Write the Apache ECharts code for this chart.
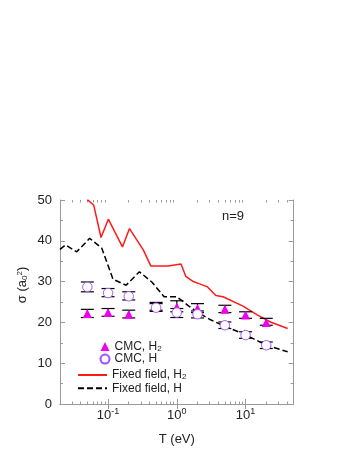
<!DOCTYPE html>
<html><head><meta charset="utf-8">
<script src="https://cdn.jsdelivr.net/npm/echarts@6/dist/echarts.min.js"></script>
<style>html,body{margin:0;padding:0;background:#fff}#c{width:354px;height:458px}</style>
</head><body><div id="c"></div>
<script>
// ---- data ----
const xMajorTicks = [0.1, 1, 10];
const xMinorTicks = [0.03,0.04,0.05,0.06,0.07,0.08,0.09,0.2,0.3,0.4,0.5,0.6,0.7,0.8,0.9,2,3,4,5,6,7,8,9,20,30,40];
const fixedH2T = [0.05,0.062,0.079,0.101,0.162,0.205,0.327,0.42,0.75,1.15,1.35,1.7,2.1,2.8,3.7,4.7,9.2,15,23,41];
const fixedH2  = [50.1,48.7,40.8,45.3,38.5,43.0,37.7,33.8,33.8,34.3,31.3,30.1,29.5,28.7,26.6,26.3,24.0,21.8,20.1,18.5];
const fixedHT  = [0.02,0.024,0.035,0.054,0.081,0.118,0.183,0.286,0.433,0.654,1.0,1.5,1.95,3.05,4.6,10.2,20,41];
const fixedH   = [37.9,39.0,37.3,40.6,38.2,30.6,29.1,32.4,29.9,26.3,26.3,24.0,22.6,20.7,19.3,16.9,14.4,12.8];
const cmcT     = [0.05,0.1,0.2,0.5,1,2,5,10,20];
const cmcH2    = [22.2,22.4,22.0,23.9,23.8,23.4,23.2,21.8,20.0];
const cmcH2Lo  = [21.2,21.5,21.1,23.0,22.6,22.4,22.4,21.0,19.3];
const cmcH2Hi  = [23.2,23.4,23.0,24.9,25.3,24.6,24.2,22.6,21.0];
const cmcH     = [28.7,27.2,26.4,23.6,22.4,22.0,19.3,16.9,14.4];
const cmcHLo   = [27.5,26.3,25.5,22.7,21.2,21.1,18.5,16.1,13.6];
const cmcHHi   = [29.9,28.3,27.5,24.6,23.4,22.8,20.1,17.7,15.2];
const yMin = 0, yMax = 50, yStep = 10;

const zip = (a, b) => a.map((v, i) => [v, b[i]]);
const zip3 = (a, b, c) => a.map((v, i) => [v, b[i], c[i]]);

const FONT = 'Liberation Sans, Arial, sans-serif';
const FRAME = '#9a9a9a';
const TXT = '#222';

function errRender(params, api) {
  const x = api.value(0), lo = api.value(1), hi = api.value(2);
  const a = api.coord([x, lo]), b = api.coord([x, hi]);
  const hw = 6.5, st = {stroke: '#000', lineWidth: 1.2};
  return {type: 'group', children: [
    {type: 'line', shape: {x1: a[0], y1: a[1], x2: b[0], y2: b[1]}, style: st},
    {type: 'line', shape: {x1: a[0]-hw, y1: a[1], x2: a[0]+hw, y2: a[1]}, style: st},
    {type: 'line', shape: {x1: b[0]-hw, y1: b[1], x2: b[0]+hw, y2: b[1]}, style: st}
  ]};
}

const gridBox = {left: 60, right: 60.4, top: 200, bottom: 54};
const logBase = {type: 'log', logBase: 10, min: 0.02, max: 50, splitLine: {show: false}};
const subFmt = n => n.replace(/H2$/, 'H{sub|2}');
const legendRich = {sub: {fontSize: 8, verticalAlign: 'bottom', fontFamily: FONT, color: TXT, lineHeight: 9}};

const chart = echarts.init(document.getElementById('c'), null, {renderer: 'canvas'});
chart.setOption({
  animation: false,
  backgroundColor: '#fff',
  grid: [Object.assign({show: false}, gridBox), Object.assign({show: false}, gridBox)],
  xAxis: [
    Object.assign({}, logBase, {gridIndex: 0, position: 'bottom',
      axisLine: {show: true, lineStyle: {color: FRAME, width: 1}},
      axisTick: {show: true, inside: true, length: 5, customValues: xMajorTicks, lineStyle: {color: FRAME}},
      axisLabel: {show: true, customValues: xMajorTicks, margin: 3, color: TXT,
        formatter: v => { const e = Math.round(Math.log10(v)); return '{b|10}{s|' + e + '}'; },
        rich: {b: {fontSize: 13, fontFamily: FONT, color: TXT, lineHeight: 16},
               s: {fontSize: 9, fontFamily: FONT, color: TXT, verticalAlign: 'top', lineHeight: 10}}},
      name: 'T (eV)', nameLocation: 'middle', nameGap: 29,
      nameTextStyle: {fontSize: 13, fontFamily: FONT, color: TXT}}),
    Object.assign({}, logBase, {gridIndex: 0, position: 'top',
      axisLine: {show: true, lineStyle: {color: FRAME, width: 1}},
      axisTick: {show: true, inside: true, length: 5, customValues: xMajorTicks, lineStyle: {color: FRAME}},
      axisLabel: {show: false}}),
    Object.assign({}, logBase, {gridIndex: 1, position: 'bottom',
      axisLine: {show: false},
      axisTick: {show: true, inside: true, length: 2.5, customValues: xMinorTicks, lineStyle: {color: FRAME}},
      axisLabel: {show: false}}),
    Object.assign({}, logBase, {gridIndex: 1, position: 'top',
      axisLine: {show: false},
      axisTick: {show: true, inside: true, length: 2.5, customValues: xMinorTicks, lineStyle: {color: FRAME}},
      axisLabel: {show: false}})
  ],
  yAxis: [
    {gridIndex: 0, type: 'value', position: 'left', min: yMin, max: yMax, interval: yStep,
      axisLine: {show: true, lineStyle: {color: FRAME, width: 1}},
      axisTick: {show: true, inside: true, length: 5, lineStyle: {color: FRAME}},
      minorTick: {show: true, splitNumber: 2, length: 3, lineStyle: {color: FRAME}},
      splitLine: {show: false}, minorSplitLine: {show: false},
      axisLabel: {margin: 8, fontSize: 13, fontFamily: FONT, color: TXT}},
    {gridIndex: 0, type: 'value', position: 'right', min: yMin, max: yMax, interval: yStep,
      axisLine: {show: true, lineStyle: {color: FRAME, width: 1}},
      axisTick: {show: true, inside: true, length: 5, lineStyle: {color: FRAME}},
      minorTick: {show: true, splitNumber: 2, length: 3, lineStyle: {color: FRAME}},
      splitLine: {show: false}, minorSplitLine: {show: false},
      axisLabel: {show: false}},
    {gridIndex: 1, type: 'value', min: yMin, max: yMax, show: false}
  ],
  legend: [
    {data: ['CMC, H2', 'CMC, H'], orient: 'vertical', left: 99.5, top: 340.5,
      itemWidth: 9, itemHeight: 9, itemGap: 0.6, padding: 0,
      formatter: subFmt,
      textStyle: {fontSize: 12, fontFamily: FONT, color: TXT, lineHeight: 12, rich: legendRich}},
    {data: ['Fixed field, H2', 'Fixed field, H'], orient: 'vertical', left: 77, top: 369,
      itemWidth: 29, itemHeight: 9, itemGap: 1.3, padding: 0,
      itemStyle: {opacity: 0},
      formatter: subFmt,
      textStyle: {fontSize: 12, fontFamily: FONT, color: TXT, lineHeight: 12, rich: legendRich}}
  ],
  graphic: [
    {type: 'text', left: 222, top: 210, style: {text: 'n=9', fontSize: 13, fontFamily: FONT, fill: TXT}},
    {type: 'text', x: 22, y: 285, rotation: Math.PI / 2,
      style: {text: 'σ (a{sub|0}{sup|2})', fontSize: 13, fontFamily: FONT, fill: TXT, align: 'center', verticalAlign: 'middle',
        rich: {sub: {fontSize: 8, fontFamily: FONT, fill: TXT, verticalAlign: 'bottom', lineHeight: 9},
               sup: {fontSize: 8, fontFamily: FONT, fill: TXT, verticalAlign: 'top', lineHeight: 9}}}}
  ],
  series: [
    {name: 'Fixed field, H2', type: 'line', xAxisIndex: 0, yAxisIndex: 0, data: zip(fixedH2T, fixedH2),
      symbol: 'none', clip: true, lineStyle: {color: '#ff1a1a', width: 1.5}, itemStyle: {color: '#ff1a1a'}, z: 3},
    {name: 'Fixed field, H', type: 'line', xAxisIndex: 0, yAxisIndex: 0, data: zip(fixedHT, fixedH),
      symbol: 'none', clip: true, lineStyle: {color: '#000', width: 1.5, type: [6, 3]}, itemStyle: {color: '#000'}, z: 3},
    {name: 'errH2', type: 'custom', xAxisIndex: 0, yAxisIndex: 0, renderItem: errRender,
      data: zip3(cmcT, cmcH2Lo, cmcH2Hi), encode: {x: 0, y: [1, 2]}, z: 4},
    {name: 'errH', type: 'custom', xAxisIndex: 0, yAxisIndex: 0, renderItem: errRender,
      data: zip3(cmcT, cmcHLo, cmcHHi), encode: {x: 0, y: [1, 2]}, z: 4},
    {name: 'CMC, H2', type: 'scatter', xAxisIndex: 0, yAxisIndex: 0, data: zip(cmcT, cmcH2),
      symbol: 'triangle', symbolSize: 9, itemStyle: {color: '#ee00ee', opacity: 1}, z: 5},
    {name: 'CMC, H', type: 'scatter', xAxisIndex: 0, yAxisIndex: 0, data: zip(cmcT, cmcH),
      symbol: 'circle', symbolSize: 9.5, itemStyle: {color: '#fff', borderColor: '#a24cff', borderWidth: 0.9, opacity: 1}, z: 6}
  ]
});
</script></body></html>
